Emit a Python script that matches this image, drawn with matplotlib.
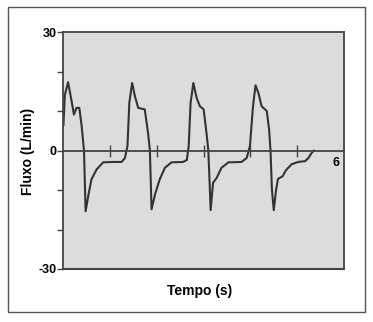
"""
Curva de fluxo x tempo (ventilação) - quatro ciclos respiratórios
"""

import matplotlib
matplotlib.use("Agg")
import matplotlib.pyplot as plt
from matplotlib.patches import Rectangle

# Tempo (s) e fluxo (L/min) lidos ao longo da curva
tempo = [0.00, 0.03, 0.10, 0.175, 0.225, 0.28, 0.34, 0.39, 0.44, 0.475,
         0.53, 0.60, 0.71, 0.85, 1.065, 1.245, 1.315, 1.37, 1.41, 1.47,
         1.53, 1.60, 1.74, 1.81, 1.85, 1.885, 1.96, 2.06, 2.17, 2.31,
         2.56, 2.64, 2.68, 2.72, 2.78, 2.85, 2.92, 3.00, 3.06, 3.10,
         3.15, 3.20, 3.28, 3.38, 3.53, 3.81, 3.92, 3.99, 4.05, 4.07,
         4.11, 4.17, 4.24, 4.35, 4.40, 4.43, 4.46, 4.50, 4.55, 4.59,
         4.69, 4.76, 4.88, 5.02, 5.17, 5.24, 5.31, 5.36]
fluxo = [6.3, 14.0, 17.3, 12.5, 9.1, 10.8, 10.8, 6.2, 0.0, -15.4,
         -11.6, -7.3, -4.8, -3.0, -2.9, -2.9, -1.9, 1.1, 12.1, 17.1,
         13.7, 10.8, 10.4, 4.5, 0.0, -14.9, -11.1, -7.3, -4.4, -3.0,
         -2.9, -2.4, 1.1, 12.0, 17.1, 13.3, 11.2, 10.4, 4.5, 0.0,
         -15.1, -8.2, -6.9, -4.4, -3.0, -2.9, -1.9, 1.1, 10.4, 12.7,
         16.5, 14.6, 11.2, 10.0, 5.3, 0.0, -9.9, -15.1, -9.9, -7.2,
         -6.5, -5.0, -3.5, -2.9, -2.7, -1.9, -0.6, 0.0]

y_ticks = [-30, -20, -10, 0, 10, 20, 30]
y_labels = ["-30", "", "", "0", "", "", "30"]
x_ticks = [1, 2, 3, 4, 5]

plt.rcParams["font.family"] = ["Liberation Sans", "DejaVu Sans"]

fig = plt.figure(figsize=(3.73, 3.22), dpi=100)
fig.patches.append(Rectangle((0.0214, 0.031), 0.957, 0.947,
                             transform=fig.transFigure, fill=False,
                             edgecolor="#555555", linewidth=1.0))

ax = fig.add_axes([0.170, 0.1646, 0.752, 0.736])
ax.set_facecolor("#dcdcdc")
ax.set_xlim(0, 6)
ax.set_ylim(-30, 30)

ax.plot(tempo, fluxo, color="#333333", linewidth=1.5,
        solid_joinstyle="round", solid_capstyle="round")

# eixo do tempo passa pelo fluxo zero
ax.spines["bottom"].set_position(("data", 0))
ax.plot([0, 1], [0, 0], transform=ax.transAxes, color="#444444",
        linewidth=1.5, clip_on=False)
for s in ["left", "top", "right", "bottom"]:
    ax.spines[s].set_color("#444444")
    ax.spines[s].set_linewidth(1.3)

ax.set_xticks(x_ticks)
ax.set_xticklabels([])
ax.tick_params(axis="x", direction="inout", length=8, width=1,
               color="#444444")
ax.text(5.84, -3.1, "6", ha="center", va="center", fontsize=9,
        fontweight="bold")

ax.set_yticks(y_ticks)
ax.set_yticklabels(y_labels, fontsize=9, fontweight="bold")
ax.tick_params(axis="y", direction="out", length=4, width=1,
               color="#444444", pad=1)

fig.text(0.536, 0.095, "Tempo (s)", ha="center", va="center",
         fontsize=10, fontweight="bold")
fig.text(0.075, 0.53, "Fluxo (L/min)", ha="center", va="center",
         rotation=90, fontsize=10, fontweight="bold")

fig.savefig("out.png", dpi=100)
